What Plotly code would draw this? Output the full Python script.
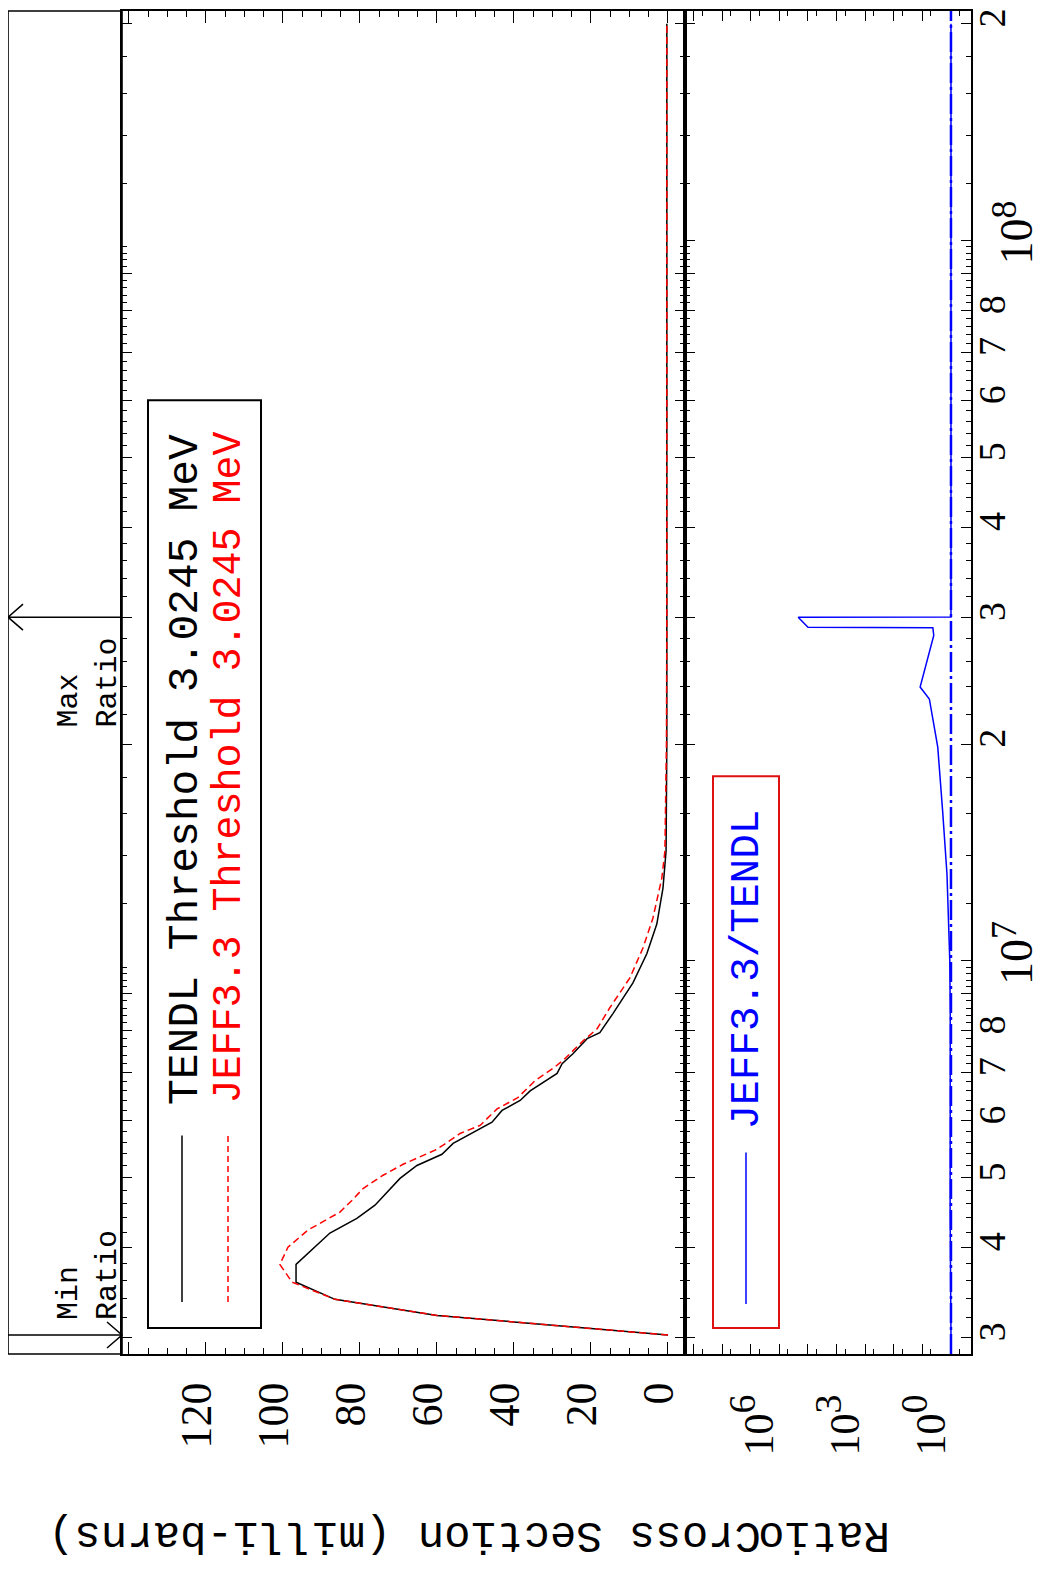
import math
import plotly.graph_objects as go

# ---------------- data ----------------
tendl_energy_ev = [3.0245e6, 3.22e6, 3.39e6, 3.58e6, 3.79e6, 4.19e6, 4.39e6, 4.58e6, 4.99e6,
                   5.20e6, 5.39e6, 5.58e6, 5.97e6, 6.20e6, 6.40e6, 6.60e6, 6.98e6, 7.20e6,
                   7.43e6, 7.80e6, 7.95e6, 8.45e6, 9.32e6, 1.023e7, 1.125e7, 1.262e7, 1.42e7,
                   1.7e7, 2.0e7, 3.0e7, 5.0e7, 1.0e8, 2.0e8]
tendl_xs_mb = [0.0, 60.0, 86.5, 96.6, 96.6, 87.8, 80.8, 76.1, 69.6,
               65.2, 58.7, 55.8, 45.7, 43.1, 38.4, 35.8, 28.8, 27.5,
               24.7, 21.0, 17.7, 14.3, 9.1, 5.5, 2.9, 1.3, 0.5,
               0.35, 0.3, 0.3, 0.3, 0.3, 0.3]

jeff_energy_ev = [3.0245e6, 3.22e6, 3.39e6, 3.58e6, 3.79e6, 4.005e6, 4.23e6, 4.48e6, 4.65e6,
                  4.83e6, 5.04e6, 5.22e6, 5.46e6, 5.55e6, 5.76e6, 5.91e6, 6.23e6, 6.46e6,
                  6.82e6, 7.09e6, 7.27e6, 7.74e6, 8.05e6, 8.61e6, 9.47e6, 1.042e7, 1.147e7,
                  1.303e7, 1.42e7, 1.7e7, 2.0e7, 3.0e7, 1.0e8, 2.0e8]
jeff_xs_mb = [0.0, 60.0, 86.5, 97.6, 100.8, 98.7, 93.5, 85.2, 82.1,
              79.2, 74.0, 68.8, 60.5, 58.4, 54.0, 48.8, 44.4, 39.0,
              34.5, 29.9, 27.3, 22.1, 18.4, 15.1, 9.9, 6.5, 3.9,
              1.6, 0.8, 0.5, 0.4, 0.3, 0.3, 0.3]

ratio_energy_ev = [3.0245e6, 3.4e6, 3.8e6, 4.5e6, 5.5e6, 7.0e6, 8.5e6, 1.0e7, 1.22e7,
                   1.32e7, 1.61e7, 1.98e7, 2.31e7, 2.40e7, 2.83e7, 2.90e7, 2.905e7,
                   3.0e7, 3.002e7, 1.0e8, 2.0e8]
ratio_values = [1.0, 1.0, 1.04, 1.07, 1.06, 1.07, 1.06, 1.1, 1.3,
                1.38, 1.95, 2.9, 5.7, 12.0, 4.0, 4.3, 1.0e5,
                2.2e5, 1.0, 1.0, 1.0]

min_ratio_energy = 3.0245e6
max_ratio_energy = 3.0e7
unity_ratio = 1.0

xs_tick_values = [0, 20, 40, 60, 80, 100, 120, 140]
xs_tick_labels = ['0', '20', '40', '60', '80', '100', '120', '']
xs_minor_values = [v for v in range(5, 145, 5) if v % 20 != 0]

energy_tick_values = [3e6, 4e6, 5e6, 6e6, 7e6, 8e6, 9e6, 1e7, 2e7, 3e7, 4e7, 5e7, 6e7,
                      7e7, 8e7, 9e7, 1e8, 2e8]
energy_tick_labels = ['3', '4', '5', '6', '7', '8', '', '', '2', '3', '4', '5',
                      '6', '7', '8', '', '', '2']
energy_decades = [1e7, 1e8]
energy_decade_exponents = ['7', '8']

DEC_R = '10<sup><span style="font-size:38px">%s</span></sup>'
ratio_tick_values = [10.0 ** k for k in range(0, 10)]
ratio_tick_labels = [DEC_R % '0', '', '', DEC_R % '3', '', '', DEC_R % '6', '', '', '']
ratio_minor_values = [5 * 10.0 ** k for k in range(-1, 9)]

# ---------------- geometry (page pixels; the page body adds an 8 px offset) ----------------
OFF = 8
P_LEFT, P_STRIP, P_MID, P_RIGHT = 8, 122, 685, 971
P_TOP, P_BOTTOM = 8, 1354
PW = P_RIGHT - P_LEFT
PH = P_BOTTOM - P_TOP
FIG_W, FIG_H = 1040, 1565
M_L, M_T = P_LEFT - OFF, P_TOP - OFF
M_R = FIG_W - M_L - PW
M_B = FIG_H - M_T - PH


def fx(p):
    return (p - P_LEFT) / PW


def fy(p):
    return (P_BOTTOM - p) / PH


E_RANGE = [6.4543, 8.3186]
E_LO, E_HI = 10 ** E_RANGE[0], 10 ** E_RANGE[1]

energy_int_ticks = [v for v in energy_tick_values if v not in energy_decades]
energy_sub_ticks = []
for dec in [1e6, 1e7, 1e8]:
    for k in range(10, 100, 2):
        if k % 10 == 0:
            continue
        v = k / 10.0 * dec
        if E_LO <= v <= E_HI:
            energy_sub_ticks.append(v)

FONT = 'Liberation Mono'
NUMFONT = 'Liberation Serif'
BLUE = '#0000ff'
RED = '#ff0000'
LW = 1.6

fig = go.Figure()
fig.add_trace(go.Scatter(x=tendl_xs_mb, y=tendl_energy_ev, mode='lines',
                         line=dict(color='black', width=1.5), xaxis='x', yaxis='y',
                         showlegend=False, hoverinfo='skip'))
fig.add_trace(go.Scatter(x=jeff_xs_mb, y=jeff_energy_ev, mode='lines',
                         line=dict(color=RED, width=1.5, dash='7px,4px'), xaxis='x', yaxis='y',
                         showlegend=False, hoverinfo='skip'))
fig.add_trace(go.Scatter(x=ratio_values, y=ratio_energy_ev, mode='lines',
                         line=dict(color=BLUE, width=1.5), xaxis='x2', yaxis='y2',
                         showlegend=False, hoverinfo='skip'))

common_y = dict(type='log', range=E_RANGE, showgrid=False, zeroline=False, domain=[0, 1])
tick_common = dict(ticks='inside', tickcolor='black', tickwidth=1.3)

fig.update_layout(
    width=FIG_W, height=FIG_H,
    margin=dict(l=M_L, r=M_R, t=M_T, b=M_B),
    paper_bgcolor='white', plot_bgcolor='white',
    font=dict(family=FONT, color='black'),
    showlegend=False,
    xaxis=dict(domain=[fx(P_STRIP), fx(P_MID)], anchor='y', range=[141.8, -4.42],
               showgrid=False, zeroline=False, showline=True, linecolor='black', linewidth=LW,
               mirror='ticks', ticklen=12, tickvals=xs_tick_values, ticktext=xs_tick_labels,
               tickangle=-90, tickfont=dict(family=NUMFONT, size=44), ticklabelstandoff=9,
               ticklabelshift=9,
               minor=dict(tickvals=xs_minor_values, ticks='inside', ticklen=6,
                          tickcolor='black', tickwidth=1.2),
               **tick_common),
    xaxis2=dict(domain=[fx(P_MID), 1], anchor='y2', type='log', range=[9.30, -0.70],
                showgrid=False, zeroline=False, showline=True, linecolor='black', linewidth=LW,
                mirror='ticks', ticklen=10, tickvals=ratio_tick_values, ticktext=ratio_tick_labels,
                tickangle=-90, tickfont=dict(family=NUMFONT, size=42), ticklabelstandoff=22,
                ticklabelshift=20,
                minor=dict(tickvals=ratio_minor_values, ticks='inside', ticklen=5,
                           tickcolor='black', tickwidth=1.2),
                **tick_common),
    xaxis3=dict(domain=[0, fx(P_STRIP)], anchor='y3', range=[0, 1], visible=False),
    yaxis=dict(anchor='x', showline=True, linecolor='black', linewidth=LW, mirror='ticks',
               ticklen=10, tickvals=energy_int_ticks, showticklabels=False,
               minor=dict(tickvals=energy_sub_ticks, ticks='inside', ticklen=5,
                          tickcolor='black', tickwidth=1),
               **common_y, **tick_common),
    yaxis2=dict(anchor='x2', side='right', showline=True, linecolor='black', linewidth=LW,
                mirror='ticks', ticklen=10, tickvals=energy_tick_values, ticktext=energy_tick_labels,
                tickangle=-90, tickfont=dict(family=NUMFONT, size=38), ticklabelstandoff=-13,
                ticklabeloverflow='allow',
                minor=dict(tickvals=energy_sub_ticks, ticks='inside', ticklen=5,
                           tickcolor='black', tickwidth=1),
                **common_y, **tick_common),
    yaxis3=dict(anchor='x3', side='right', showline=False, ticklen=10, tickvals=energy_decades,
                showticklabels=False, **common_y, **tick_common),
    yaxis4=dict(anchor='x', overlaying='y', showline=False, mirror='ticks', ticklen=15,
                tickvals=energy_decades, showticklabels=False, **common_y, **tick_common),
    yaxis5=dict(anchor='x2', overlaying='y2', side='right', showline=False, mirror='ticks',
                ticklen=15, tickvals=energy_decades, showticklabels=False,
                **common_y, **tick_common),
)

shapes = []
# left strip frame
shapes.append(dict(type='rect', xref='paper', yref='paper', x0=0, x1=fx(P_STRIP), y0=0, y1=1,
                   line=dict(color='black', width=LW)))
# legend boxes
shapes.append(dict(type='rect', xref='paper', yref='paper', x0=fx(148), x1=fx(261),
                   y0=fy(1328), y1=fy(398), line=dict(color='black', width=2)))
shapes.append(dict(type='rect', xref='paper', yref='paper', x0=fx(713), x1=fx(779),
                   y0=fy(1328), y1=fy(775), line=dict(color='#dd1111', width=2)))
# legend samples
shapes.append(dict(type='line', xref='paper', yref='paper', x0=fx(182), x1=fx(182),
                   y0=fy(1302), y1=fy(1135), line=dict(color='black', width=1.5)))
shapes.append(dict(type='line', xref='paper', yref='paper', x0=fx(228), x1=fx(228),
                   y0=fy(1302), y1=fy(1135), line=dict(color=RED, width=1.5, dash='6px,4px')))
shapes.append(dict(type='line', xref='paper', yref='paper', x0=fx(746), x1=fx(746),
                   y0=fy(1304), y1=fy(1152), line=dict(color=BLUE, width=1.5)))
# unity reference line of the ratio panel
shapes.append(dict(type='line', xref='x2', yref='paper', x0=unity_ratio, x1=unity_ratio,
                   y0=0, y1=1, line=dict(color=BLUE, width=2.5, dash='20px,4px,3px,4px')))
# min / max ratio arrows
L_ARR = P_STRIP - P_LEFT
shapes.append(dict(type='path', xref='paper', yref='y', xsizemode='pixel', ysizemode='pixel',
                   xanchor=fx(P_STRIP), yanchor=min_ratio_energy,
                   path=f'M{-L_ARR},0 L0,0 M-15,13 L0,0 L-15,-13',
                   line=dict(color='black', width=1.5)))
shapes.append(dict(type='path', xref='paper', yref='y', xsizemode='pixel', ysizemode='pixel',
                   xanchor=fx(P_LEFT), yanchor=max_ratio_energy,
                   path=f'M{L_ARR},0 L0,0 M15,13 L0,0 L15,-13',
                   line=dict(color='black', width=1.5)))
fig.update_layout(shapes=shapes)

ann = []


def text(t, x, y, size, color='black', angle=-90, xa='center', ya='bottom', align='left'):
    ann.append(dict(text=t, x=fx(x), y=fy(y), xref='paper', yref='paper', showarrow=False,
                    xanchor=xa, yanchor=ya, textangle=angle, align=align,
                    font=dict(family=FONT, size=size, color=color)))


text('TENDL Threshold 3.0245 MeV', 185, 1107, 43, 'black')
text('JEFF3.3 Threshold 3.0245 MeV', 230, 1105, 40, RED)
text('JEFF3.3/TENDL', 747, 1131, 41, BLUE)
text('Min<br>Ratio', 88, 1322, 30)
text('Max<br>Ratio', 88, 728, 30)
text('Cross Section (milli-barns)', 405, 1536, 44, angle=180, ya='middle')
text('Ratio', 824, 1536, 44, angle=180, ya='middle')

# decade labels of the energy axis (placed on the axis' own data coordinates)
for dec, expo in zip(energy_decades, energy_decade_exponents):
    ann.append(dict(text='<span style="font-size:46px">10</span>'
                         '<sup><span style="font-size:36px">%s</span></sup>' % expo,
                    x=fx(982), xref='paper', y=math.log10(dec), yref='y2',
                    showarrow=False, xanchor='left', yanchor='middle', yshift=8,
                    textangle=-90, font=dict(family=NUMFONT, size=38, color='black')))
fig.update_layout(annotations=ann)

fig.write_html('out.html')
